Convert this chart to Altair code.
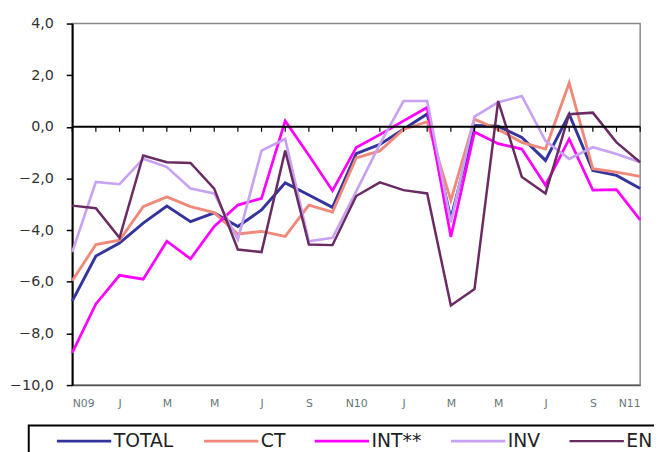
import altair as alt
import pandas as pd

months = ["N09", "D09", "J10", "F10", "M10", "A10", "M10", "J10", "J10", "A10", "S10", "O10",
          "N10", "D10", "J11", "F11", "M11", "A11", "M11", "J11", "J11", "A11", "S11", "O11", "N11"]
tick_labels = ["N09", "J", "M", "M", "J", "S", "N10", "J", "M", "M", "J", "S", "N11"]
series_names = ["TOTAL", "CT", "INT**", "INV", "EN"]

total = [-6.75, -5.0, -4.5, -3.73, -3.07, -3.67, -3.33, -3.86, -3.22, -2.17, -2.64, -3.12,
         -1.04, -0.68, -0.09, 0.5, -3.55, 0.05, 0.02, -0.41, -1.30, 0.49, -1.69, -1.88, -2.39]
ct = [-5.96, -4.56, -4.39, -3.09, -2.71, -3.09, -3.32, -4.15, -4.05, -4.24, -3.03, -3.3,
      -1.2, -0.93, -0.1, 0.2, -2.85, 0.3, -0.1, -0.6, -0.86, 1.70, -1.62, -1.75, -1.92]
int_ = [-8.75, -6.86, -5.75, -5.9, -4.43, -5.11, -3.86, -3.03, -2.77, 0.23, -1.1, -2.47,
        -0.8, -0.3, 0.23, 0.75, -4.26, -0.2, -0.65, -0.86, -2.26, -0.47, -2.45, -2.43, -3.6]
inv = [-4.85, -2.13, -2.22, -1.24, -1.56, -2.39, -2.58, -4.37, -0.92, -0.47, -4.43, -4.3,
       -2.5, -0.67, 1.0, 1.0, -3.7, 0.4, 0.95, 1.19, -0.54, -1.24, -0.79, -1.05, -1.37]
en = [-3.05, -3.15, -4.3, -1.11, -1.37, -1.40, -2.39, -4.75, -4.85, -0.92, -4.56, -4.58,
      -2.68, -2.15, -2.45, -2.58, -6.92, -6.28, 1.0, -1.94, -2.58, 0.49, 0.55, -0.6, -1.37]
zero_line = [0]

colors = ["#34359c", "#f0897a", "#ff00ff", "#c8a2f2", "#6a2a62"]
widths = [3, 2.5, 3, 3, 1.3]

rows = []
for name, vals in zip(series_names, [total, ct, int_, inv, en]):
    for i, v in enumerate(vals):
        rows.append({"m": i, "month": months[i], "s": name, "v": v})
df = pd.DataFrame(rows)
df_m = pd.DataFrame({"m": list(range(len(months)))})
df_z = pd.DataFrame({"z": zero_line})

label_arr = "[" + ",".join("'%s'" % t for t in tick_labels) + "]"

leg = alt.Legend(
    orient="none", legendX=-44, legendY=407, direction="horizontal",
    title=" ", titleOrient="left", titlePadding=23, titleFontSize=10,
    symbolType="M-1,0H4.5", symbolSize=400, labelFontSize=19, labelFont="DejaVu Sans",
    labelColor="#222222", labelOffset=36, columnPadding=24, padding=4, strokeColor="black",
)

lines = alt.Chart(df).mark_line().encode(
    x=alt.X("m:Q", scale=alt.Scale(domain=[0, 24], nice=False, zero=False),
            axis=alt.Axis(values=list(range(0, 25, 2)), labelExpr=label_arr + "[round(datum.value/2)]",
                          ticks=False, tickSize=0, domainColor="#555555", domainWidth=1.5,
                          labelFontSize=11, labelColor="#667777", labelPadding=13, grid=False,
                          title=None, labelFont="DejaVu Sans")),
    y=alt.Y("v:Q", scale=alt.Scale(domain=[-10, 4], nice=False),
            axis=alt.Axis(values=list(range(-10, 5, 2)),
                          labelExpr="replace(format(datum.value, '.1f'), '.', ',')",
                          tickSize=6, tickColor="black", tickWidth=1.5, domainColor="black",
                          domainWidth=2, labelFontSize=14.5, labelColor="#333333", labelPadding=13,
                          grid=False, title=None, labelFont="DejaVu Sans")),
    color=alt.Color("s:N", scale=alt.Scale(domain=series_names, range=colors), legend=leg),
    strokeWidth=alt.StrokeWidth("s:N", scale=alt.Scale(domain=series_names, range=widths), legend=leg),
)

zero = alt.Chart(df_z).mark_rule(color="black", strokeWidth=2).encode(
    y=alt.Y("z:Q")
)

ticks = alt.Chart(df_m).mark_rule(color="black", strokeWidth=1.2, y2Offset=5).encode(
    x=alt.X("m:Q"), y=alt.datum(0), y2=alt.datum(0)
)

chart = alt.layer(lines, zero, ticks).properties(
    width=575, height=366,
    autosize=alt.AutoSizeParams(type="none"),
    padding={"left": 65, "top": 13, "right": 14, "bottom": 65},
    background="white",
).configure_view(stroke="#8a8a8a", strokeWidth=1.5).configure_legend(strokeWidth=2)

chart.save("out.html", embed_options={"renderer": "svg", "actions": False})
